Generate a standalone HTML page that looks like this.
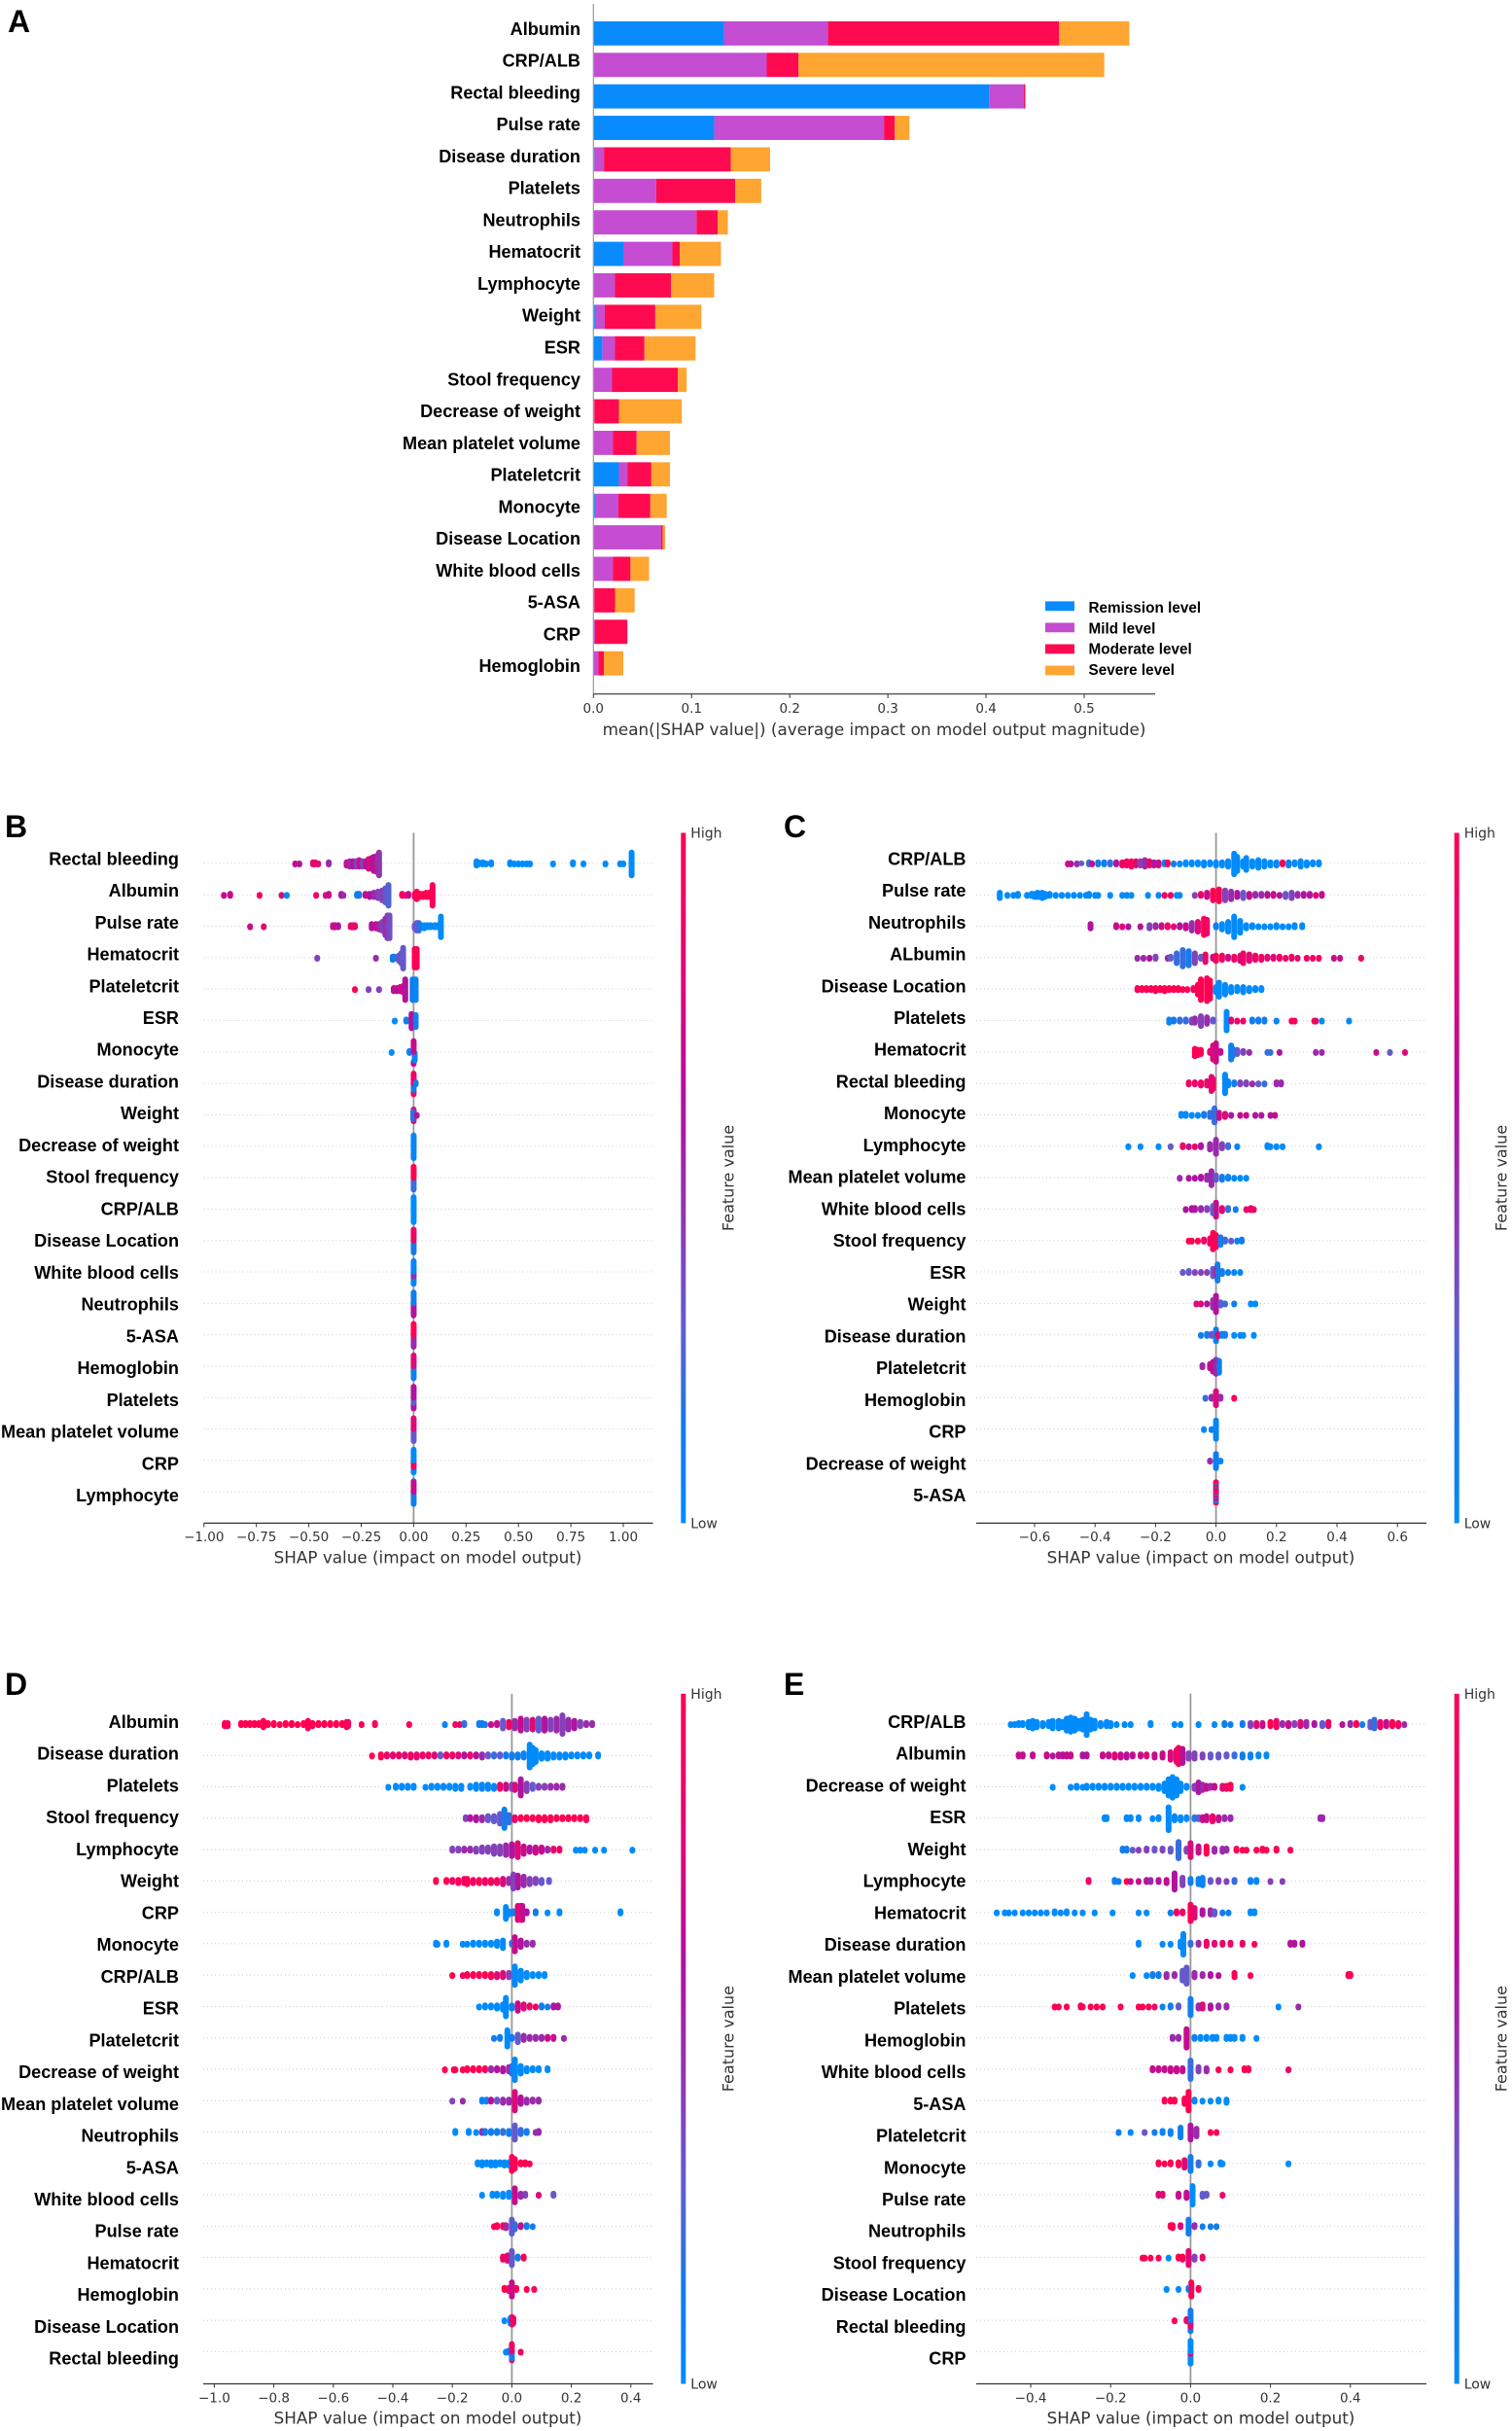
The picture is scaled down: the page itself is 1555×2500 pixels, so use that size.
<!DOCTYPE html>
<html lang="en">
<head>
<meta charset="utf-8">
<title>SHAP feature importance panels</title>
<style>
html,body{margin:0;padding:0;background:#fff;}
svg{display:block;filter:blur(.35px);}
text{font-family:"DejaVu Sans","Liberation Sans",sans-serif;}
.feat{font-family:"Liberation Sans",sans-serif;font-weight:700;font-size:18.1px;fill:#000;text-anchor:end;dominant-baseline:central;}
.tick{font-size:13.5px;fill:#333;text-anchor:middle;dominant-baseline:central;}
.xlab{font-size:16.8px;fill:#333;text-anchor:middle;dominant-baseline:central;}
.cb{font-size:14px;fill:#333;dominant-baseline:central;}
.letter{font-family:"Liberation Sans",sans-serif;font-weight:700;font-size:32px;fill:#000;}
.leg{font-family:"Liberation Sans",sans-serif;font-weight:700;font-size:15.3px;fill:#000;dominant-baseline:central;}
</style>
</head>
<body>
<svg id="figure" xmlns="http://www.w3.org/2000/svg" width="1555" height="2500" viewBox="0 0 1555 2500">
<rect width="1555" height="2500" fill="#fff"/>
<defs>
<linearGradient id="cbGrad" x1="0" y1="1" x2="0" y2="0">
<stop offset="0" stop-color="#008bfb"/><stop offset="0.15" stop-color="#1a78e8"/><stop offset="0.28" stop-color="#5f5fd0"/><stop offset="0.42" stop-color="#8a3db5"/><stop offset="0.62" stop-color="#b30f9c"/><stop offset="0.8" stop-color="#dd0a78"/><stop offset="1" stop-color="#ff0052"/>
</linearGradient>
</defs>
<text class="letter" x="8" y="33">A</text>
<text class="letter" x="5" y="861">B</text>
<text class="letter" x="806" y="861">C</text>
<text class="letter" x="5" y="1743">D</text>
<text class="letter" x="806" y="1743">E</text>
</svg>
<script>
/* ---------- Panel A data ---------- */
const aFeatures=["Albumin","CRP/ALB","Rectal bleeding","Pulse rate","Disease duration","Platelets","Neutrophils","Hematocrit","Lymphocyte","Weight","ESR","Stool frequency","Decrease of weight","Mean platelet volume","Plateletcrit","Monocyte","Disease Location","White blood cells","5-ASA","CRP","Hemoglobin"];
const aRemission=[.133,0,.403,.123,.001,0,0,.0304,0,.0016,.009,0,0,0,.026,.0016,0,0,0,0,0];
const aMild=[.106,.1765,.0355,.173,.0097,.064,.105,.05,.022,.0099,.013,.019,.001,.0197,.0085,.0239,.069,.0197,.001,.0016,.005];
const aModerate=[.2355,.0325,.0015,.011,.1293,.0805,.0215,.0075,.057,.0515,.03,.067,.025,.0243,.0245,.0325,.0016,.018,.021,.033,.0057];
const aSevere=[.0715,.3115,0,.015,.04,.0265,.0105,.042,.044,.047,.052,.009,.064,.034,.019,.0167,.0024,.019,.02,0,.0197];
const aTicks=[0,.1,.2,.3,.4,.5];
const aTickLabels=["0.0","0.1","0.2","0.3","0.4","0.5"];
const aLegend=["Remission level","Mild level","Moderate level","Severe level"];
const aColors=["#0a8bfd","#c44dd2","#ff0a50","#ffa531"];

/* ---------- Panel B data: each point group is [shap value, dots in stack, feature level] ---------- */
const bFeatures=["Rectal bleeding","Albumin","Pulse rate","Hematocrit","Plateletcrit","ESR","Monocyte","Disease duration","Weight","Decrease of weight","Stool frequency","CRP/ALB","Disease Location","White blood cells","Neutrophils","5-ASA","Hemoglobin","Platelets","Mean platelet volume","CRP","Lymphocyte"];
const bTicks=[-1,-.75,-.5,-.25,0,.25,.5,.75,1];
const bTickLabels=["\u22121.00","\u22120.75","\u22120.50","\u22120.25","0.00","0.25","0.50","0.75","1.00"];
const bPoints=[
[[-.565,2,.7],[-.545,2,.6],[-.48,3,.8],[-.47,3,.9],[-.455,2,.8],[-.405,3,.5],[-.32,4,.7],[-.305,6,.5],[-.29,6,.6],[-.275,6,.4],[-.26,7,.7],[-.245,6,.4],[-.23,6,.6],[-.215,10,.8],[-.2,11,.6],[-.19,14,.7],[-.175,16,.5],[-.165,22,.45],[.3,5,0],[.31,3,0],[.33,3,0],[.345,2,0],[.37,3,0],[.46,3,0],[.48,2,0],[.5,2,0],[.52,2,0],[.54,2,0],[.555,2,0],[.665,2,0],[.76,3,0],[.81,2,0],[.915,2,0],[.985,2,0],[1,2,0],[1.04,22,0]],
[[-.905,2,.7],[-.875,3,.7],[-.735,2,.9],[-.63,2,.8],[-.605,2,0],[-.465,2,.9],[-.42,2,.8],[-.405,3,.7],[-.345,3,.6],[-.335,2,.5],[-.27,3,.1],[-.26,3,.1],[-.23,3,.7],[-.21,4,.6],[-.19,5,.5],[-.17,7,.4],[-.15,10,.4],[-.135,14,.3],[-.12,20,.25],[-.055,3,.9],[-.04,2,.9],[-.025,3,.7],[.005,4,.9],[.015,8,1],[.03,4,1],[.045,4,1],[.06,5,1],[.075,5,1],[.09,20,1]],
[[-.78,2,.7],[-.715,2,.8],[-.385,3,.7],[-.375,3,.7],[-.36,3,.6],[-.3,3,.9],[-.29,3,.8],[-.28,3,.9],[-.2,5,.6],[-.18,5,.7],[-.165,6,.5],[-.15,9,.4],[-.135,16,.5],[-.125,22,.4],[-.115,22,.35],[.005,4,.3],[.015,8,.3],[.025,8,.2],[.035,3,.1],[.05,4,0],[.065,3,0],[.08,3,0],[.1,3,0],[.115,3,0],[.13,20,0]],
[[-.46,2,.4],[-.18,2,.5],[-.1,4,.1],[-.09,3,.1],[-.07,6,.35],[-.06,10,.3],[-.05,20,.3],[.005,18,1],[.015,18,1]],
[[-.28,2,1],[-.215,2,.4],[-.165,2,.4],[-.095,4,.7],[-.08,4,.6],[-.065,5,.7],[-.05,7,.7],[-.04,20,.6],[-.005,20,.1],[.01,20,.05]],
[[-.09,2,0],[-.035,3,.1],[-.01,14,.6],[.01,12,.1]],
[[-.105,2,0],[-.02,3,.1],[0,14,.7],[.005,8,.05]],
[[0,14,.9],[0,6,.1],[.01,3,.1]],
[[0,12,.8],[-.002,8,.2],[.015,2,.6]],
[[0,22,.05]],
[[0,11,1],[0,11,.2]],
[[0,24,0]],
[[0,11,.9],[0,11,.15]],
[[0,18,.05],[0,4,.5]],
[[0,11,.1],[0,11,.6]],
[[0,11,1],[0,11,.5]],
[[0,11,.8],[0,11,.1]],
[[0,16,.6],[0,5,.3]],
[[0,11,.8],[0,11,.3]],
[[0,16,0],[0,6,.9]],
[[0,10,.7],[0,12,.1]]
];

/* ---------- Panel C data ---------- */
const cFeatures=["CRP/ALB","Pulse rate","Neutrophils","ALbumin","Disease Location","Platelets","Hematocrit","Rectal bleeding","Monocyte","Lymphocyte","Mean platelet volume","White blood cells","Stool frequency","ESR","Weight","Disease duration","Plateletcrit","Hemoglobin","CRP","Decrease of weight","5-ASA"];
const cTicks=[-.6,-.4,-.2,0,.2,.4,.6];
const cTickLabels=["\u22120.6","\u22120.4","\u22120.2","0.0","0.2","0.4","0.6"];
const cPoints=[
[[-.49,2,.8],[-.48,2,.6],[-.46,2,.5],[-.445,1,.3],[-.42,3,.2],[-.41,2,.7],[-.39,3,.1],[-.37,3,.1],[-.35,3,.2],[-.33,3,.6],[-.31,4,.9],[-.295,5,.9],[-.28,6,1],[-.265,5,.8],[-.25,5,.4],[-.235,7,.5],[-.22,5,.9],[-.205,4,.6],[-.19,4,.7],[-.17,3,.1],[-.16,3,1],[-.14,2,.1],[-.12,2,0],[-.1,3,0],[-.08,3,0],[-.06,3,0],[-.04,4,0],[-.02,3,0],[0,4,0],[.02,4,0],[.04,6,0],[.06,20,0],[.07,14,0],[.09,6,0],[.1,12,0],[.12,6,0],[.14,8,0],[.16,6,0],[.18,4,0],[.2,4,0],[.22,3,1],[.24,4,.1],[.26,3,0],[.28,6,0],[.3,4,0],[.32,3,0],[.34,3,0]],
[[-.715,6,0],[-.69,2,0],[-.67,2,0],[-.655,3,0],[-.625,2,0],[-.61,3,0],[-.6,4,0],[-.59,5,0],[-.575,6,0],[-.565,4,0],[-.55,3,0],[-.53,2,0],[-.51,2,0],[-.49,2,0],[-.47,2,0],[-.45,2,0],[-.43,2,0],[-.42,3,0],[-.4,2,0],[-.39,2,0],[-.35,2,0],[-.31,2,0],[-.295,2,0],[-.28,2,0],[-.225,2,0],[-.19,2,0],[-.17,2,.9],[-.15,2,.9],[-.13,2,0],[-.12,2,0],[-.07,2,.4],[-.05,3,.9],[-.03,5,.7],[-.01,10,1],[.01,12,1],[.03,10,.4],[.05,8,.5],[.07,5,.6],[.09,6,.3],[.11,4,.7],[.13,3,.5],[.15,3,.5],[.17,3,.6],[.19,3,.7],[.21,2,.6],[.23,4,.3],[.25,6,.4],[.27,3,.5],[.29,3,.6],[.31,3,.6],[.33,2,.8],[.35,3,.7]],
[[-.415,5,.6],[-.33,3,.7],[-.31,2,.8],[-.29,2,.6],[-.25,2,.6],[-.22,4,.4],[-.2,3,.5],[-.18,3,.7],[-.16,3,.9],[-.14,2,.8],[-.12,3,.6],[-.1,4,.7],[-.08,8,.5],[-.06,10,.8],[-.04,16,1],[-.03,14,.9],[0,3,.1],[.02,6,0],[.04,10,0],[.06,20,0],[.08,12,0],[.1,4,0],[.12,3,0],[.14,2,0],[.16,2,0],[.18,2,0],[.2,3,0],[.22,2,0],[.24,2,0],[.26,3,0],[.285,3,0]],
[[-.26,2,.5],[-.24,2,.5],[-.22,2,.6],[-.2,3,.4],[-.16,2,.5],[-.15,3,.3],[-.13,10,.2],[-.11,16,.2],[-.09,14,.1],[-.07,10,.4],[-.05,3,.3],[-.035,8,.9],[-.01,3,.7],[0,6,1],[.02,5,.9],[.04,3,.7],[.06,4,.9],[.08,6,.8],[.09,10,.9],[.11,7,.8],[.13,5,.9],[.15,4,.9],[.17,3,.8],[.19,3,.8],[.21,3,.9],[.23,2,.9],[.25,3,.9],[.27,2,.8],[.3,2,.9],[.32,2,.9],[.34,2,.9],[.39,2,.7],[.41,2,.7],[.48,2,.9]],
[[-.26,3,.95],[-.245,3,1],[-.23,3,1],[-.215,3,.95],[-.2,4,1],[-.185,3,1],[-.17,4,1],[-.155,3,1],[-.14,3,1],[-.125,3,1],[-.11,2,1],[-.095,2,1],[-.075,3,.9],[-.06,10,1],[-.05,20,1],[-.03,22,1],[-.02,18,1],[0,6,0],[.01,14,0],[.03,10,0],[.05,6,0],[.07,5,0],[.09,6,0],[.11,4,0],[.13,3,0],[.15,3,0]],
[[-.155,4,.05],[-.14,3,.1],[-.12,3,.2],[-.1,3,.2],[-.08,4,.4],[-.07,5,.5],[-.05,10,.4],[-.03,7,.5],[-.01,3,.3],[.035,18,0],[.05,3,.8],[.07,2,.9],[.09,2,.9],[.12,3,.1],[.14,3,.1],[.16,3,.1],[.2,2,.05],[.25,2,1],[.26,2,1],[.325,2,1],[.33,2,.9],[.35,2,0],[.44,2,0]],
[[-.07,8,1],[-.06,6,.95],[-.05,5,1],[-.02,3,.8],[-.01,14,.8],[0,18,.7],[.015,3,.7],[.05,14,.1],[.055,8,.1],[.07,5,.3],[.09,3,.4],[.11,2,.5],[.17,2,.2],[.18,2,.2],[.21,2,.6],[.33,2,.5],[.35,2,.5],[.53,2,.7],[.575,2,.3],[.625,2,.8]],
[[-.09,3,.9],[-.07,3,.9],[-.05,4,.9],[-.03,5,.85],[-.015,14,.8],[-.01,10,.9],[.03,18,0],[.04,5,.05],[.06,3,.1],[.08,3,.4],[.1,3,.4],[.12,2,.5],[.14,2,.3],[.16,2,.2],[.2,3,.5],[.215,3,.5]],
[[-.115,3,0],[-.1,3,0],[-.08,2,0],[-.06,2,.05],[-.04,3,.1],[-.02,5,.2],[-.005,14,.2],[.01,6,.7],[.03,4,.8],[.05,2,.6],[.08,2,.7],[.1,2,.7],[.13,2,.6],[.15,2,.6],[.18,2,.6],[.195,2,.7]],
[[-.29,2,0],[-.25,2,0],[-.19,2,0],[-.15,2,.3],[-.11,3,.9],[-.09,2,.7],[-.07,2,.9],[-.05,3,.6],[-.02,6,.5],[0,14,.5],[.02,5,.4],[.04,3,.2],[.07,2,.05],[.17,3,0],[.18,2,0],[.2,2,0],[.22,2,0],[.34,2,0]],
[[-.12,2,.5],[-.09,2,.6],[-.07,2,.6],[-.05,3,.6],[-.03,5,.5],[-.015,14,.5],[0,5,.3],[.02,4,.1],[.04,3,.05],[.06,2,0],[.08,2,0],[.1,2,0]],
[[-.1,2,.6],[-.08,3,.6],[-.07,3,.6],[-.05,3,.5],[-.03,3,.4],[-.01,8,.3],[0,14,.7],[.02,4,.8],[.04,3,.2],[.065,2,.1],[.1,2,.9],[.115,3,.9],[.125,2,.9]],
[[-.09,2,1],[-.08,2,1],[-.06,2,1],[-.04,3,.9],[-.02,6,.9],[-.01,16,1],[0,12,.95],[.015,8,.1],[.03,3,.2],[.05,2,.3],[.07,2,.1],[.085,3,.1]],
[[-.11,2,.3],[-.09,3,.3],[-.07,2,.4],[-.05,2,.4],[-.03,2,.4],[-.01,8,.3],[0,5,.8],[.005,16,.1],[.02,4,.1],[.04,2,.1],[.06,2,.05],[.08,2,.05]],
[[-.065,2,.8],[-.05,2,.8],[-.03,2,.6],[-.01,8,.5],[0,16,.6],[.015,4,.3],[.03,2,.2],[.06,2,.1],[.115,2,0],[.13,2,0]],
[[-.05,2,.1],[-.03,3,.1],[-.015,3,.3],[0,12,.1],[.005,4,.8],[.02,3,.1],[.03,3,.05],[.06,2,0],[.08,2,0],[.09,2,0],[.125,2,0]],
[[-.045,3,.5],[-.02,5,.7],[-.01,10,.6],[0,14,.5],[.01,12,.1]],
[[-.035,2,.2],[-.015,3,.5],[0,14,.8],[.015,3,.5],[.06,2,1]],
[[-.04,2,0],[-.015,2,.1],[0,18,.05]],
[[-.02,2,.5],[0,14,.1],[.015,2,.05]],
[[0,10,1],[0,6,.1],[0,4,.7]]
];

/* ---------- Panel D data ---------- */
const dFeatures=["Albumin","Disease duration","Platelets","Stool frequency","Lymphocyte","Weight","CRP","Monocyte","CRP/ALB","ESR","Plateletcrit","Decrease of weight","Mean platelet volume","Neutrophils","5-ASA","White blood cells","Pulse rate","Hematocrit","Hemoglobin","Disease Location","Rectal bleeding"];
const dTicks=[-1,-.8,-.6,-.4,-.2,0,.2,.4];
const dTickLabels=["\u22121.0","\u22120.8","\u22120.6","\u22120.4","\u22120.2","0.0","0.2","0.4"];
const dPoints=[
[[-.965,4,1],[-.955,4,1],[-.91,3,1],[-.895,3,1],[-.88,3,1],[-.865,3,1],[-.85,3,1],[-.835,7,1],[-.82,3,1],[-.8,3,1],[-.78,2,1],[-.76,3,1],[-.74,3,1],[-.72,2,1],[-.7,3,1],[-.685,8,1],[-.67,4,1],[-.65,3,1],[-.63,3,1],[-.61,3,1],[-.59,3,1],[-.57,3,1],[-.555,6,.95],[-.55,5,.95],[-.505,2,1],[-.46,3,.95],[-.345,2,1],[-.225,2,.05],[-.19,2,.9],[-.175,2,.9],[-.16,3,.2],[-.11,3,.1],[-.1,3,.1],[-.09,2,.1],[-.07,2,.7],[-.05,3,.7],[-.03,8,.3],[-.01,6,.9],[.01,8,.5],[.03,12,.7],[.05,10,.4],[.07,10,.8],[.09,12,.3],[.11,12,.6],[.13,10,.4],[.15,12,.5],[.17,18,.4],[.19,10,.5],[.21,8,.6],[.23,5,.4],[.25,3,.5],[.27,3,.5]],
[[-.47,2,1],[-.44,4,1],[-.42,3,.9],[-.4,3,.85],[-.38,3,.9],[-.36,3,.8],[-.34,4,.9],[-.32,4,.85],[-.3,3,.9],[-.28,3,.9],[-.26,3,.8],[-.24,3,.3],[-.22,3,.9],[-.2,3,.9],[-.18,3,.8],[-.16,3,.6],[-.14,3,.9],[-.12,3,.6],[-.1,4,.5],[-.08,3,.3],[-.06,3,.2],[-.04,3,.3],[-.02,3,.1],[0,4,.1],[.02,4,.1],[.04,5,.05],[.06,22,0],[.07,16,0],[.08,12,0],[.1,6,0],[.12,6,0],[.14,4,0],[.16,4,0],[.18,4,0],[.2,3,0],[.22,3,0],[.24,3,0],[.26,3,0],[.29,3,0]],
[[-.415,2,0],[-.39,3,0],[-.37,3,0],[-.35,3,0],[-.33,3,0],[-.29,2,0],[-.27,3,0],[-.25,3,0],[-.23,3,0],[-.21,3,0],[-.19,4,0],[-.17,4,0],[-.14,3,0],[-.12,5,0],[-.1,5,.05],[-.08,5,.05],[-.06,4,.05],[-.04,5,.9],[-.02,5,.7],[0,5,.4],[.01,6,.8],[.03,16,.6],[.05,8,.4],[.07,5,.3],[.09,3,.4],[.11,3,.4],[.13,3,.5],[.15,3,.5],[.17,3,.5]],
[[-.155,3,.4],[-.14,3,.6],[-.12,4,.6],[-.1,4,.5],[-.08,5,.3],[-.06,6,.3],[-.04,10,.3],[-.025,18,.1],[-.01,8,.2],[.01,4,.9],[.03,3,1],[.05,3,1],[.07,3,1],[.09,4,1],[.11,4,1],[.13,4,1],[.15,3,1],[.17,3,1],[.19,3,1],[.21,3,1],[.23,3,1],[.25,4,1]],
[[-.2,3,.4],[-.18,3,.4],[-.16,3,.5],[-.14,3,.5],[-.12,4,.4],[-.1,5,.4],[-.08,5,.4],[-.06,8,.4],[-.04,8,.4],[-.02,10,.5],[0,12,.6],[.02,14,.8],[.04,8,.7],[.06,5,.6],[.08,6,.7],[.1,5,.7],[.12,3,.5],[.14,3,.9],[.16,3,.9],[.215,2,0],[.23,2,0],[.245,2,0],[.28,2,0],[.31,2,0],[.405,2,0]],
[[-.255,3,1],[-.22,3,1],[-.2,3,.9],[-.18,4,1],[-.16,5,.9],[-.15,6,1],[-.13,4,.9],[-.11,4,1],[-.09,4,.9],[-.07,4,.95],[-.05,4,.9],[-.03,6,.8],[-.01,5,.5],[.005,14,.4],[.02,12,.6],[.04,9,.5],[.06,6,.4],[.08,5,.4],[.1,4,.3],[.125,3,.3]],
[[-.05,3,0],[-.02,12,0],[-.01,4,0],[.005,3,.1],[.02,14,.8],[.03,14,.8],[.035,14,.7],[.05,3,.6],[.08,3,.1],[.12,2,0],[.16,3,0],[.365,3,0]],
[[-.255,3,0],[-.25,2,0],[-.22,3,0],[-.165,2,0],[-.15,2,0],[-.13,3,0],[-.11,3,0],[-.09,3,0],[-.07,3,0],[-.05,5,0],[-.03,8,0],[0,3,.2],[.01,14,.7],[.03,7,.6],[.05,3,.5],[.07,3,.5]],
[[-.2,2,1],[-.165,2,.9],[-.15,3,1],[-.13,3,.95],[-.11,3,1],[-.09,3,1],[-.07,4,1],[-.05,4,.8],[-.03,5,.8],[-.01,5,.4],[.01,18,0],[.03,10,0],[.05,5,0],[.07,3,0],[.09,3,0],[.11,3,0]],
[[-.11,2,0],[-.09,3,0],[-.07,3,0],[-.05,4,0],[-.03,6,0],[-.02,18,0],[0,4,.1],[.02,8,.7],[.04,5,.8],[.06,3,.9],[.08,2,.9],[.1,3,.1],[.12,2,.1],[.14,3,.6],[.155,3,.6]],
[[-.06,2,.1],[-.04,3,.1],[-.015,16,0],[0,3,.1],[.02,8,.3],[.04,5,.5],[.06,3,.5],[.08,3,.5],[.1,3,.5],[.12,3,.7],[.14,3,.7],[.175,2,.5]],
[[-.225,2,1],[-.195,2,1],[-.19,2,1],[-.165,2,1],[-.15,3,1],[-.13,3,1],[-.11,3,1],[-.09,3,1],[-.07,3,.5],[-.05,3,.6],[-.03,4,.6],[-.01,5,.5],[0,8,.1],[.01,20,0],[.03,8,0],[.05,4,0],[.07,3,0],[.09,3,0],[.12,3,0]],
[[-.2,2,.4],[-.165,2,.5],[-.1,3,.05],[-.085,3,.05],[-.07,3,.7],[-.05,3,.3],[-.03,4,.5],[-.01,4,.5],[.01,18,.8],[.03,7,.6],[.05,4,.5],[.07,3,.5],[.09,3,.5]],
[[-.19,3,0],[-.145,3,0],[-.12,2,0],[-.1,3,.5],[-.09,3,.1],[-.07,3,.1],[-.05,3,.1],[-.03,3,.2],[-.01,4,.1],[.01,14,.3],[.03,5,.2],[.05,3,.1],[.08,2,.5],[.09,3,.5]],
[[-.115,3,0],[-.1,4,0],[-.085,3,0],[-.07,4,0],[-.055,4,0],[-.04,3,0],[-.025,4,0],[-.01,4,0],[0,14,1],[.01,10,1],[.03,3,1],[.045,3,1],[.06,2,1]],
[[-.1,2,0],[-.065,3,0],[-.05,3,0],[-.03,4,0],[-.01,5,0],[.01,14,.7],[.03,4,.5],[.045,3,.4],[.09,2,.8],[.14,3,.3]],
[[-.06,2,1],[-.05,3,1],[-.03,3,1],[-.02,4,.5],[0,14,.3],[.01,6,.2],[.03,3,.7],[.05,3,.1],[.07,2,.1]],
[[-.03,4,.9],[-.015,6,.8],[0,14,.3],[.02,3,.1],[.04,3,1]],
[[-.025,3,1],[-.01,4,.9],[0,14,.7],[.015,3,1],[.05,2,1],[.075,2,1]],
[[-.025,2,0],[-.005,6,.05],[0,8,1],[.005,6,.9]],
[[-.02,2,0],[-.01,3,.1],[0,10,.9],[0,6,.1],[.03,2,.9]]
];

/* ---------- Panel E data ---------- */
const eFeatures=["CRP/ALB","Albumin","Decrease of weight","ESR","Weight","Lymphocyte","Hematocrit","Disease duration","Mean platelet volume","Platelets","Hemoglobin","White blood cells","5-ASA","Plateletcrit","Monocyte","Pulse rate","Neutrophils","Stool frequency","Disease Location","Rectal bleeding","CRP"];
const eTicks=[-.4,-.2,0,.2,.4];
const eTickLabels=["\u22120.4","\u22120.2","0.0","0.2","0.4"];
const ePoints=[
[[-.45,2,0],[-.44,2,0],[-.43,3,0],[-.42,3,0],[-.405,6,0],[-.395,8,0],[-.385,6,0],[-.37,4,0],[-.355,5,0],[-.345,8,0],[-.33,8,0],[-.32,6,0],[-.31,12,0],[-.3,14,0],[-.29,12,0],[-.28,8,0],[-.27,10,0],[-.26,20,0],[-.25,10,0],[-.24,8,0],[-.225,4,0],[-.21,5,0],[-.2,4,0],[-.185,2,0],[-.165,2,0],[-.15,2,0],[-.1,3,0],[-.04,2,0],[-.025,2,0],[.02,2,0],[.06,2,0],[.085,3,.1],[.1,2,.1],[.13,3,.1],[.15,4,.4],[.165,4,.8],[.18,4,.7],[.2,5,1],[.215,7,.9],[.23,3,.5],[.245,4,.7],[.26,3,.4],[.275,5,.8],[.29,5,.5],[.31,3,.6],[.33,4,.3],[.345,5,.9],[.38,2,.6],[.4,3,.5],[.415,3,1],[.43,2,.1],[.45,6,.3],[.46,9,.2],[.475,6,.9],[.49,5,.7],[.505,5,1],[.52,4,.9],[.535,2,.5]],
[[-.43,3,.7],[-.42,3,.7],[-.395,3,.7],[-.36,3,.7],[-.345,2,.6],[-.33,3,.7],[-.32,3,.6],[-.31,3,.7],[-.3,3,.7],[-.27,3,.6],[-.26,3,.6],[-.22,3,.7],[-.205,3,.7],[-.19,4,.8],[-.175,4,.7],[-.16,4,.6],[-.145,3,.7],[-.125,3,.7],[-.11,3,.8],[-.09,4,.7],[-.07,5,.7],[-.05,8,.8],[-.035,12,.8],[-.03,16,1],[-.02,14,.6],[-.005,6,.4],[.01,6,.4],[.03,4,.4],[.05,4,.3],[.07,4,.3],[.09,3,.3],[.11,3,.2],[.13,4,.1],[.15,4,.05],[.17,3,0],[.19,3,0]],
[[-.345,2,0],[-.3,2,0],[-.285,3,0],[-.27,2,0],[-.26,3,0],[-.245,3,0],[-.23,3,0],[-.215,3,0],[-.2,3,0],[-.185,3,0],[-.17,3,0],[-.155,3,0],[-.14,3,0],[-.125,3,0],[-.11,3,0],[-.095,3,0],[-.08,4,0],[-.065,8,0],[-.055,16,0],[-.045,20,0],[-.035,16,0],[-.025,8,0],[-.01,3,0],[.01,4,.4],[.02,10,.6],[.03,6,.5],[.04,4,.7],[.05,3,.5],[.06,3,.7],[.08,4,.8],[.09,4,.9],[.1,5,1],[.13,2,0]],
[[-.215,3,0],[-.21,3,0],[-.16,3,0],[-.15,3,0],[-.13,3,0],[-.095,2,0],[-.08,3,0],[-.055,22,0],[-.04,5,0],[-.025,4,0],[-.01,3,0],[.01,3,.1],[.02,3,.3],[.03,4,.7],[.04,5,.7],[.055,6,.9],[.07,4,.7],[.085,3,.5],[.1,3,.5],[.325,3,.5],[.33,3,.5]],
[[-.17,3,.1],[-.16,3,.1],[-.145,2,.3],[-.13,2,.4],[-.11,3,.4],[-.09,3,.3],[-.07,3,.4],[-.05,4,.3],[-.03,16,.2],[-.01,4,.4],[0,14,.8],[.02,7,.7],[.04,8,1],[.06,4,.5],[.08,4,.5],[.09,3,.5],[.115,3,1],[.13,2,1],[.14,2,1],[.165,2,1],[.18,3,1],[.19,2,1],[.215,3,1],[.25,2,1]],
[[-.255,3,.9],[-.19,3,.1],[-.18,2,.1],[-.16,2,1],[-.15,2,.7],[-.13,2,.7],[-.11,3,.6],[-.1,3,.5],[-.08,3,.6],[-.06,4,.7],[-.04,16,.6],[-.02,8,.4],[0,5,.1],[.02,6,.05],[.03,8,.05],[.05,3,.3],[.07,3,.4],[.09,2,.4],[.11,3,.2],[.15,3,.05],[.165,3,.05],[.2,2,.4],[.23,2,.4]],
[[-.485,2,0],[-.465,2,0],[-.455,2,0],[-.44,2,0],[-.42,2,0],[-.405,2,0],[-.39,2,0],[-.375,2,0],[-.36,2,0],[-.34,3,0],[-.325,2,0],[-.31,3,0],[-.29,2,0],[-.27,2,0],[-.24,2,0],[-.195,2,0],[-.13,2,0],[-.11,2,0],[-.05,2,.1],[-.035,3,.9],[-.02,3,.9],[0,16,1],[.01,10,.8],[.03,5,.6],[.05,5,.5],[.06,4,.3],[.08,2,.1],[.095,2,.1],[.15,3,0],[.16,3,0]],
[[-.13,3,0],[-.07,2,0],[-.05,2,0],[-.025,6,0],[-.018,20,0],[0,3,.2],[.02,3,.5],[.04,5,.9],[.06,3,.8],[.08,3,.9],[.1,3,.9],[.13,3,.9],[.16,2,1],[.25,3,.6],[.26,3,.6],[.28,3,.6]],
[[-.145,2,0],[-.11,2,0],[-.095,3,.1],[-.08,3,.1],[-.06,4,.5],[-.04,3,.5],[-.02,10,.3],[-.01,16,.3],[.01,5,.5],[.03,3,.5],[.05,3,.6],[.07,2,.6],[.11,5,1],[.15,2,1],[.395,3,1],[.4,3,1]],
[[-.34,2,1],[-.33,2,1],[-.31,2,1],[-.275,3,1],[-.27,2,1],[-.25,2,1],[-.235,2,1],[-.22,2,1],[-.175,2,1],[-.13,2,1],[-.12,2,1],[-.105,2,1],[-.09,2,.9],[-.07,2,.05],[-.05,3,.1],[-.03,3,.3],[0,16,.1],[.02,4,.5],[.03,5,.8],[.05,4,.6],[.07,3,.5],[.09,3,.5],[.22,2,0],[.27,2,.5]],
[[-.045,3,.5],[-.03,3,.5],[-.01,18,.7],[.01,3,.1],[.025,3,0],[.04,3,0],[.055,3,0],[.065,3,0],[.09,3,0],[.1,3,0],[.11,3,0],[.13,3,0],[.165,2,0]],
[[-.095,3,.7],[-.08,3,.7],[-.065,3,.7],[-.05,4,.7],[-.035,4,.7],[-.02,4,.7],[0,18,.2],[.02,5,.4],[.04,4,.5],[.07,2,1],[.1,2,1],[.135,3,1],[.145,3,1],[.245,2,.9]],
[[-.065,3,1],[-.05,3,1],[-.04,3,1],[-.015,6,1],[-.005,18,1],[.01,3,0],[.03,2,0],[.05,2,0],[.07,3,0],[.09,4,0]],
[[-.18,2,.1],[-.15,2,0],[-.115,2,.3],[-.09,2,.1],[-.07,3,.05],[-.05,4,.05],[-.025,10,.1],[0,14,.6],[.015,8,.5],[.05,2,1],[.065,2,1]],
[[-.08,3,1],[-.065,2,1],[-.05,3,1],[-.03,4,1],[-.015,8,.8],[0,14,.1],[.02,4,.2],[.05,2,0],[.075,3,0],[.08,2,0],[.245,2,0]],
[[-.08,3,.8],[-.07,3,.8],[-.03,4,.7],[-.01,6,.7],[.005,18,0],[.03,4,.3],[.04,3,.3],[.08,2,.9]],
[[-.05,3,1],[-.045,4,1],[-.025,3,.8],[-.005,14,.1],[.01,3,.5],[.03,2,.1],[.05,2,.1],[.065,2,.1]],
[[-.12,2,1],[-.115,2,1],[-.1,2,1],[-.08,2,1],[-.055,2,0],[-.03,3,1],[-.02,4,1],[-.005,14,.8],[.01,4,.4],[.03,3,.9]],
[[-.06,2,0],[-.03,2,0],[-.005,3,.1],[.002,14,1],[.02,3,1]],
[[-.04,2,1],[-.01,3,.9],[0,14,.1],[0,6,.8]],
[[0,20,0],[0,2,1]]
];

/* ---------- Shared helpers ---------- */
const NS='http://www.w3.org/2000/svg';
const root=document.getElementById('figure');
function svgEl(parent,tag,attrs,text){
  const n=document.createElementNS(NS,tag);
  for(const k in attrs){n.setAttribute(k,attrs[k]);}
  if(text!==undefined){n.textContent=text;}
  parent.appendChild(n);
  return n;
}
const levelStops=[[0,[0,139,251]],[.15,[26,120,232]],[.28,[95,95,208]],[.42,[138,61,181]],[.62,[179,15,156]],[.8,[221,10,120]],[1,[255,0,82]]];
function levelColor(l){
  for(let i=1;i<levelStops.length;i++){
    if(l<=levelStops[i][0]){
      const a=levelStops[i-1],b=levelStops[i],t=(l-a[0])/(b[0]-a[0]);
      return 'rgb('+a[1].map((c,j)=>Math.round(c+(b[1][j]-c)*t)).join(',')+')';
    }
  }
  return 'rgb(255,0,82)';
}

/* ---------- Panel A: stacked bars ---------- */
(function(){
  const g=svgEl(root,'g',{});
  
  
  const xA=v=>610.3+1009.4*v;
  const barTop=i=>21.9+32.39*i;
  const labelY=i=>29.9+32.76*i;
  const series=[aRemission,aMild,aModerate,aSevere];
  const seriesNames=['remission','mild','moderate','severe'];
  aFeatures.forEach((name,i)=>{
    let cum=0;
    series.forEach((vals,s)=>{
      const w=vals[i];
      if(w>0){
        const r=svgEl(g,'rect',{x:xA(cum),y:barTop(i),width:xA(cum+w)-xA(cum),height:24.9,fill:aColors[s]});
        
        
      }
      cum+=w;
    });
    const t=svgEl(g,'text',{class:'feat',x:597,y:labelY(i)},name);
    
    
  });
  const yAxis=svgEl(g,'line',{x1:xA(0),x2:xA(0),y1:4,y2:713.7,stroke:'#999','stroke-width':1.2});
  
  
  const xAxis=svgEl(g,'line',{x1:xA(0),x2:1188,y1:713.7,y2:713.7,stroke:'#333','stroke-width':1.2});
  
  
  aTicks.forEach((v,i)=>{
    const m=svgEl(g,'line',{x1:xA(v),x2:xA(v),y1:713.7,y2:718,stroke:'#333','stroke-width':1});
    
    
    const l=svgEl(g,'text',{class:'tick',x:xA(v),y:729},aTickLabels[i]);
    
    
  });
  const xl=svgEl(g,'text',{class:'xlab',x:899,y:750},'mean(|SHAP value|) (average impact on model output magnitude)');
  
  
  const swatchY=i=>618.4+22.05*i;
  const legendTextY=i=>625.7+21.2*i;
  aLegend.forEach((txt,i)=>{
    const s=svgEl(g,'rect',{x:1075,y:swatchY(i),width:30,height:9.8,fill:aColors[i]});
    
    
    const l=svgEl(g,'text',{class:'leg',x:1119.5,y:legendTextY(i)},txt);
    
    
  });
})();

/* ---------- Panels B-E: beeswarm ---------- */
function drawBeeswarm(cfg){
  const g=svgEl(root,'g',{});
  
  
  const x=v=>cfg.zero+cfg.scale*v;
  const rowY=i=>cfg.rowTop+cfg.rowPitch*i;
  const labelY=i=>cfg.labelTop+32.74*i;
  cfg.features.forEach((name,i)=>{
    const grid=svgEl(g,'line',{x1:cfg.left,x2:cfg.right,y1:rowY(i),y2:rowY(i),stroke:'#ccc','stroke-width':1,'stroke-dasharray':'1 3'});
    
    
    const t=svgEl(g,'text',{class:'feat',x:cfg.labelRight,y:labelY(i)},name);
    
    
  });
  const zl=svgEl(g,'line',{x1:x(0),x2:x(0),y1:cfg.top,y2:cfg.axisY,stroke:'#999','stroke-width':1.8});
  
  
  cfg.points.forEach((row,i)=>{
    const bins=new Map();
    row.forEach(p=>{
      const key=Math.round(x(p[0])/2);
      if(!bins.has(key)){bins.set(key,[]);}
      bins.get(key).push({v:p[0],n:p[1],l:p[2]});
    });
    const dots=[];
    bins.forEach(list=>{
      let k=0,left=true;
      while(left){
        left=false;
        list.forEach(e=>{
          if(e.n>0){
            e.n--;left=true;
            const off=(k%2?1:-1)*Math.ceil(k/2)*1.12;
            dots.push({cx:x(e.v),cy:rowY(i)+off,l:e.l,k:k});
            k++;
          }
        });
      }
    });
    dots.sort((a,b)=>b.k-a.k);
    dots.forEach(d=>{
      const c=svgEl(g,'circle',{cx:d.cx,cy:d.cy,r:3,fill:levelColor(d.l)});
      
      
    });
  });
  const axis=svgEl(g,'line',{x1:cfg.left,x2:cfg.right,y1:cfg.axisY,y2:cfg.axisY,stroke:'#333','stroke-width':1.2});
  
  
  cfg.ticks.forEach((v,i)=>{
    const m=svgEl(g,'line',{x1:x(v),x2:x(v),y1:cfg.axisY,y2:cfg.axisY+4,stroke:'#333','stroke-width':1});
    
    
    const l=svgEl(g,'text',{class:'tick',x:x(v),y:cfg.axisY+14.8},cfg.tickLabels[i]);
    
    
  });
  const xl=svgEl(g,'text',{class:'xlab',x:cfg.titleX,y:cfg.axisY+35.2},'SHAP value (impact on model output)');
  
  
  const cb=svgEl(g,'rect',{x:cfg.cbX-2.5,y:cfg.top,width:5,height:cfg.axisY-cfg.top,fill:'url(#cbGrad)'});
  
  
  const hi=svgEl(g,'text',{class:'cb',x:cfg.cbX+7.5,y:cfg.top+1},'High');
  
  
  const lo=svgEl(g,'text',{class:'cb',x:cfg.cbX+7.5,y:cfg.axisY+1},'Low');
  
  
  const fy=(cfg.top+cfg.axisY)/2;
  const fv=svgEl(g,'text',{x:cfg.cbX+46,y:fy,'font-size':'16px',fill:'#333','text-anchor':'middle','dominant-baseline':'central',transform:'rotate(-90 '+(cfg.cbX+46)+' '+fy+')'},'Feature value');
  
  
}
drawBeeswarm({id:'b',features:bFeatures,points:bPoints,ticks:bTicks,tickLabels:bTickLabels,zero:425.4,scale:215.6,left:209.5,right:671.6,labelRight:184,rowTop:887.9,rowPitch:32.32,labelTop:883.3,top:856.5,axisY:1566.4,titleX:440,cbX:702.8});
drawBeeswarm({id:'c',features:cFeatures,points:cPoints,ticks:cTicks,tickLabels:cTickLabels,zero:1250.6,scale:311,left:1003.9,right:1467,labelRight:993.5,rowTop:887.9,rowPitch:32.32,labelTop:883.3,top:856.5,axisY:1566.4,titleX:1235,cbX:1498.2});
drawBeeswarm({id:'d',features:dFeatures,points:dPoints,ticks:dTicks,tickLabels:dTickLabels,zero:526.4,scale:306,left:209,right:671.6,labelRight:184,rowTop:1773,rowPitch:32.27,labelTop:1770.9,top:1741.8,axisY:2451.5,titleX:440,cbX:702.8});
drawBeeswarm({id:'e',features:eFeatures,points:ePoints,ticks:eTicks,tickLabels:eTickLabels,zero:1224.4,scale:410.9,left:1003.9,right:1467,labelRight:993.5,rowTop:1773,rowPitch:32.27,labelTop:1770.9,top:1741.8,axisY:2451.5,titleX:1235,cbX:1498.2});
</script>
</body>
</html>
